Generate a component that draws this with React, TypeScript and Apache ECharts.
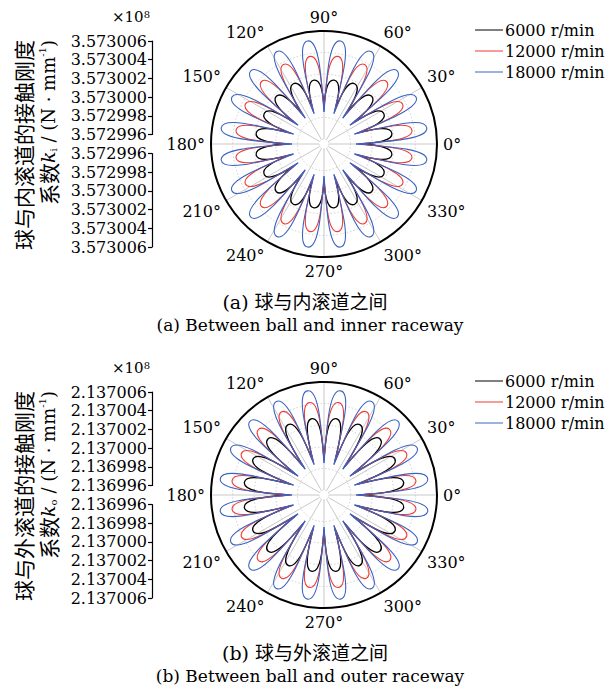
import React, { useEffect, useRef } from "react";
import * as echarts from "echarts";

// Rotational speeds shown in both panels
const speeds = ["6000 r/min", "12000 r/min", "18000 r/min"];
const speedColors = ["#000000", "#ef3b33", "#3a62c4"];
const speedWidths = [1.3, 1.1, 1.1];

// Angular positions (deg) of the lobe tips and of the valleys between them
const peakAngles = [9, 27, 45, 63, 81, 99, 117, 135, 153, 171, 189, 207, 225, 243, 261, 279, 297, 315, 333, 351];
const troughAngles = [0, 18, 36, 54, 72, 90, 108, 126, 144, 162, 180, 198, 216, 234, 252, 270, 288, 306, 324, 342];

// Ball / inner raceway contact stiffness, N/mm
const innerPeak6000 = [357300190, 357300175, 357300178, 357300180, 357300152, 357300152, 357300180, 357300178, 357300175, 357300190, 357300190, 357300175, 357300178, 357300180, 357300152, 357300152, 357300180, 357300178, 357300175, 357300190];
const innerTrough6000 = [357299906, 357299906, 357299906, 357299906, 357299906, 357299906, 357299906, 357299906, 357299906, 357299906, 357299906, 357299906, 357299906, 357299906, 357299906, 357299906, 357299906, 357299906, 357299906, 357299906];
const innerPeak12000 = [357300378, 357300370, 357300372, 357300380, 357300375, 357300375, 357300380, 357300372, 357300370, 357300378, 357300378, 357300370, 357300372, 357300380, 357300375, 357300375, 357300380, 357300372, 357300370, 357300378];
const innerTrough12000 = [357299868, 357299868, 357299868, 357299868, 357299868, 357299868, 357299868, 357299868, 357299868, 357299868, 357299868, 357299868, 357299868, 357299868, 357299868, 357299868, 357299868, 357299868, 357299868, 357299868];
const innerPeak18000 = [357300517, 357300510, 357300512, 357300515, 357300520, 357300520, 357300515, 357300512, 357300510, 357300517, 357300517, 357300510, 357300512, 357300515, 357300520, 357300520, 357300515, 357300512, 357300510, 357300517];
const innerTrough18000 = [357299850, 357299850, 357299850, 357299850, 357299850, 357299850, 357299850, 357299850, 357299850, 357299850, 357299850, 357299850, 357299850, 357299850, 357299850, 357299850, 357299850, 357299850, 357299850, 357299850];

// Ball / outer raceway contact stiffness, N/mm
const outerPeak6000 = [213700300, 213700290, 213700288, 213700285, 213700270, 213700270, 213700285, 213700288, 213700290, 213700300, 213700300, 213700290, 213700288, 213700285, 213700270, 213700270, 213700285, 213700288, 213700290, 213700300];
const outerTrough6000 = [213699887, 213699887, 213699887, 213699887, 213699887, 213699887, 213699887, 213699887, 213699887, 213699887, 213699887, 213699887, 213699887, 213699887, 213699887, 213699887, 213699887, 213699887, 213699887, 213699887];
const outerPeak12000 = [213700415, 213700410, 213700412, 213700418, 213700420, 213700420, 213700418, 213700412, 213700410, 213700415, 213700415, 213700410, 213700412, 213700418, 213700420, 213700420, 213700418, 213700412, 213700410, 213700415];
const outerTrough12000 = [213699868, 213699868, 213699868, 213699868, 213699868, 213699868, 213699868, 213699868, 213699868, 213699868, 213699868, 213699868, 213699868, 213699868, 213699868, 213699868, 213699868, 213699868, 213699868, 213699868];
const outerPeak18000 = [213700526, 213700520, 213700522, 213700526, 213700530, 213700530, 213700526, 213700522, 213700520, 213700526, 213700526, 213700520, 213700522, 213700526, 213700530, 213700530, 213700526, 213700522, 213700520, 213700526];
const outerTrough18000 = [213699850, 213699850, 213699850, 213699850, 213699850, 213699850, 213699850, 213699850, 213699850, 213699850, 213699850, 213699850, 213699850, 213699850, 213699850, 213699850, 213699850, 213699850, 213699850, 213699850];

// Radial axis ranges (N/mm) and tick step
const innerRange = [357299600, 357300600];
const outerRange = [213699600, 213700600];
const radialStep = 200;

const SERIF = "DejaVu Serif";
const CJK = "Noto Sans CJK SC";

// Petal outline shaping: the handle leaving a valley points between the
// petal axis and the valley's own ray; the tip is rounded with a tangential handle
const BASE_REACH = 0.5;
const BASE_SPREAD = 0.5;
const TIP_WIDTH = 0.7;

function petalRenderer(color: string, width: number) {
  return (params: any, api: any) => {
    const cs = params.coordSys;
    const cx = cs.cx;
    const cy = cs.cy;
    const vP = api.value(0);
    const aP = api.value(1);
    const vL = api.value(2);
    const aL = api.value(3);
    const vR = api.value(4);
    const aR = api.value(5);
    const dL = (((aP - aL) % 360) + 360) % 360;
    const dR = (((aR - aP) % 360) + 360) % 360;
    const P = api.coord([vP, aP]);
    const L = api.coord([vL, aL]);
    const R = api.coord([vR, aR]);
    const rad = (p: number[]) => Math.hypot(p[0] - cx, p[1] - cy);
    const unit = (v: number[]) => {
      const n = Math.hypot(v[0], v[1]) || 1;
      return [v[0] / n, v[1] / n];
    };
    const rp = rad(P) || 1;
    const uP = [(P[0] - cx) / rp, (P[1] - cy) / rp];
    const uL = unit([L[0] - cx, L[1] - cy]);
    const uR = unit([R[0] - cx, R[1] - cy]);
    const gL = unit([uP[0] + BASE_SPREAD * (uL[0] - uP[0]), uP[1] + BASE_SPREAD * (uL[1] - uP[1])]);
    const gR = unit([uP[0] + BASE_SPREAD * (uR[0] - uP[0]), uP[1] + BASE_SPREAD * (uR[1] - uP[1])]);
    const sL = BASE_REACH * (rp - rad(L));
    const sR = BASE_REACH * (rp - rad(R));
    const c1 = [L[0] + gL[0] * sL, L[1] + gL[1] * sL];
    const c4 = [R[0] + gR[0] * sR, R[1] + gR[1] * sR];
    let t = [-uP[1], uP[0]];
    if ((L[0] - P[0]) * t[0] + (L[1] - P[1]) * t[1] < 0) t = [-t[0], -t[1]];
    const wL = TIP_WIDTH * rp * Math.sin((dL * Math.PI) / 180);
    const wR = TIP_WIDTH * rp * Math.sin((dR * Math.PI) / 180);
    const c2 = [P[0] + t[0] * wL, P[1] + t[1] * wL];
    const c3 = [P[0] - t[0] * wR, P[1] - t[1] * wR];
    const f = (p: number[]) => `${p[0].toFixed(2)},${p[1].toFixed(2)}`;
    const d = `M${f(L)} C${f(c1)} ${f(c2)} ${f(P)} C${f(c3)} ${f(c4)} ${f(R)}`;
    return {
      type: "path",
      shape: { pathData: d },
      style: { fill: "none", stroke: color, lineWidth: width },
      silent: true,
    };
  };
}

function lobeData(peaks: number[], troughs: number[]) {
  return peaks.map((p, i) => {
    const j = (i + 1) % troughs.length;
    return [p, peakAngles[i], troughs[i], troughAngles[i], troughs[j], troughAngles[j]];
  });
}

type Panel = {
  cy: number;
  range: number[];
  peaks: number[][];
  troughs: number[][];
  titleMain: string;
  titleSub: string;
  captionCn: string;
  captionEn: string;
};

const panels: Panel[] = [
  {
    cy: 144,
    range: innerRange,
    peaks: [innerPeak6000, innerPeak12000, innerPeak18000],
    troughs: [innerTrough6000, innerTrough12000, innerTrough18000],
    titleMain: "球与内滚道的接触刚度",
    titleSub: "i",
    captionCn: "(a) 球与内滚道之间",
    captionEn: "(a) Between ball and inner raceway",
  },
  {
    cy: 495,
    range: outerRange,
    peaks: [outerPeak6000, outerPeak12000, outerPeak18000],
    troughs: [outerTrough6000, outerTrough12000, outerTrough18000],
    titleMain: "球与外滚道的接触刚度",
    titleSub: "o",
    captionCn: "(b) 球与外滚道之间",
    captionEn: "(b) Between ball and outer raceway",
  },
];

const CX = 324;
const R_IN = 5;
const R_OUT = 113;
const AXIS_X = 152;

function buildOption() {
  const polar: any[] = [];
  const angleAxis: any[] = [];
  const radiusAxis: any[] = [];
  const grid: any[] = [];
  const xAxis: any[] = [];
  const yAxis: any[] = [];
  const series: any[] = [];
  const legend: any[] = [];
  const graphic: any[] = [];

  panels.forEach((pn, k) => {
    polar.push({ center: [CX, pn.cy], radius: [R_IN, R_OUT] });
    angleAxis.push({
      polarIndex: k,
      type: "value",
      min: 0,
      max: 360,
      interval: 30,
      startAngle: 0,
      clockwise: false,
      axisLine: { show: false },
      axisTick: { show: false },
      axisLabel: {
        margin: 6,
        color: "#000",
        fontFamily: SERIF,
        fontSize: 16,
        formatter: (v: number) => (v >= 360 ? "" : `${v}°`),
      },
      splitLine: { show: true, lineStyle: { color: "#c9c9c9", width: 1 } },
    });
    radiusAxis.push({
      polarIndex: k,
      type: "value",
      min: pn.range[0],
      max: pn.range[1],
      interval: radialStep,
      axisLine: { show: false },
      axisTick: { show: false },
      axisLabel: { show: false },
      splitLine: { show: true, lineStyle: { color: "#c4c4c4", width: 0.8, type: [1.5, 2] } },
    });

    // Left bracket scale: upper half reads outward, lower half mirrored
    const gTop = pn.cy - 9.5 - 93.5;
    const gBot = pn.cy + 9.5;
    [gTop, gBot].forEach((top, h) => {
      grid.push({ left: AXIS_X, top, width: 2, height: 93.5, containLabel: false });
      const gi = grid.length - 1;
      xAxis.push({ gridIndex: gi, show: false, type: "value", min: 0, max: 1 });
      yAxis.push({
        gridIndex: gi,
        type: "value",
        position: "left",
        inverse: h === 1,
        min: pn.range[0],
        max: pn.range[1],
        interval: radialStep,
        axisLine: { show: true, lineStyle: { color: "#000", width: 1.2 } },
        axisTick: { show: true, length: 4, lineStyle: { color: "#000", width: 1.2 } },
        splitLine: { show: false },
        axisLabel: {
          interval: 0,
          margin: 5,
          color: "#000",
          fontFamily: SERIF,
          fontSize: 16,
          formatter: (v: number) => (v / 1e8).toFixed(6),
        },
      });
    });

    speeds.forEach((name, s) => {
      series.push({
        type: "custom",
        name,
        coordinateSystem: "polar",
        polarIndex: k,
        encode: { radius: 0, angle: 1 },
        itemStyle: { color: speedColors[s] },
        renderItem: petalRenderer(speedColors[s], speedWidths[s]),
        data: lobeData(pn.peaks[s], pn.troughs[s]),
        z: 3 + s,
      });
    });

    legend.push({
      data: speeds,
      orient: "vertical",
      left: 470,
      top: pn.cy - 127,
      icon: "rect",
      itemWidth: 28,
      itemHeight: 1,
      itemGap: 5,
      selectedMode: false,
      textStyle: { fontFamily: SERIF, fontSize: 16, color: "#000", padding: [0, 0, 0, -3] },
    });

    // Outer frame of the polar axes
    graphic.push({
      type: "circle",
      shape: { cx: CX, cy: pn.cy, r: R_OUT },
      style: { fill: "none", stroke: "#000", lineWidth: 2 },
      z: 10,
      silent: true,
    });
    // Multiplier above the bracket scale
    graphic.push({
      type: "text",
      x: AXIS_X - 2,
      y: pn.cy - 127,
      style: {
        text: "{a|×10}{b|8}",
        align: "right",
        verticalAlign: "middle",
        rich: {
          a: { fontFamily: SERIF, fontSize: 15, fill: "#000", verticalAlign: "bottom" },
          b: { fontFamily: SERIF, fontSize: 10, fill: "#000", verticalAlign: "top" },
        },
      },
    });
    // Rotated axis title, two lines
    graphic.push({
      type: "text",
      x: 23,
      y: pn.cy - 104,
      rotation: Math.PI / 2,
      style: {
        text: pn.titleMain,
        align: "right",
        verticalAlign: "middle",
        fontFamily: CJK,
        fontSize: 21,
        fill: "#000",
      },
    });
    graphic.push({
      type: "text",
      x: 48,
      y: pn.cy - 104,
      rotation: Math.PI / 2,
      style: {
        text: `{c|系数}{k|k}{s|${pn.titleSub}}{t| / (N · mm}{p|-1}{t|)}`,
        align: "right",
        verticalAlign: "middle",
        rich: {
          c: { fontFamily: CJK, fontSize: 21, fill: "#000" },
          k: { fontFamily: SERIF, fontStyle: "italic", fontSize: 19, fill: "#000" },
          s: { fontFamily: SERIF, fontSize: 10, fill: "#000", verticalAlign: "bottom" },
          t: { fontFamily: SERIF, fontSize: 18, fill: "#000" },
          p: { fontFamily: SERIF, fontSize: 10, fill: "#000", verticalAlign: "top" },
        },
      },
    });
    // Captions
    graphic.push({
      type: "text",
      x: 305,
      y: pn.cy + 158,
      style: { text: pn.captionCn, align: "center", verticalAlign: "middle", fontFamily: `${SERIF}, ${CJK}`, fontSize: 19, fill: "#000" },
    });
    graphic.push({
      type: "text",
      x: 310,
      y: pn.cy + 181,
      style: { text: pn.captionEn, align: "center", verticalAlign: "middle", fontFamily: SERIF, fontSize: 17, fill: "#000" },
    });
  });

  return {
    animation: false,
    backgroundColor: "#ffffff",
    polar,
    angleAxis,
    radiusAxis,
    grid,
    xAxis,
    yAxis,
    legend,
    series,
    graphic,
  };
}

export default function App() {
  const ref = useRef<HTMLDivElement>(null);
  useEffect(() => {
    if (!ref.current) return;
    const chart = echarts.init(ref.current, undefined, { renderer: "svg" });
    chart.setOption(buildOption() as any);
    return () => chart.dispose();
  }, []);
  return <div ref={ref} style={{ position: "fixed", left: 0, top: 0, width: 606, height: 693 }} />;
}
